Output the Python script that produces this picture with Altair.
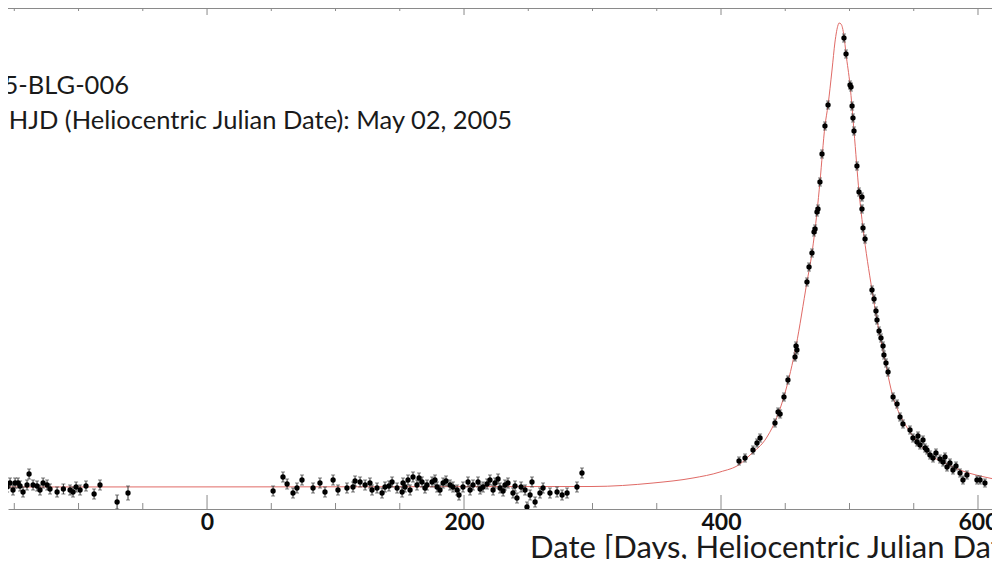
import altair as alt
import pandas as pd

obs_day = [
    -159.5, -157.2, -155.6, -153.3, -151.0, -149.4, -147.1, -145.5, -143.2, -140.1, -138.5, -135.4,
    -132.3, -130.0, -127.6, -124.5, -122.2, -116.7, -111.8, -106.6, -104.3, -101.9, -98.8, -94.2,
    -87.9, -83.3, -70.0, -61.5,
    51.4, 59.1, 62.3, 66.9, 70.0, 73.9, 82.5, 87.9, 91.8, 98.1, 101.9, 108.9,
    113.6, 115.2, 119.1, 123.0, 126.8, 128.4, 132.3, 136.2, 138.5, 141.6, 144.0, 147.9,
    151.8, 152.5, 154.1, 156.4, 158.0, 160.3, 163.4, 165.0, 167.3, 169.6, 171.2, 175.1,
    177.4, 179.0, 181.3, 183.7, 186.0, 189.1, 191.4, 194.6, 196.1, 199.2, 203.1, 204.7,
    207.0, 210.9, 212.5, 214.8, 217.9, 220.2, 222.6, 224.1, 226.5, 228.0, 230.4, 231.9,
    234.2, 238.1, 239.7, 241.2, 244.4, 247.5, 249.0, 251.4, 252.9, 255.3, 259.1, 261.5,
    266.9, 272.4, 276.3, 280.2, 287.9, 291.8,
    414.0, 418.7, 424.9, 428.0, 430.4, 442.0, 444.4, 446.0, 449.0, 452.1, 457.6, 458.4,
    459.1, 466.9, 468.5, 470.8, 472.4, 473.2, 474.7, 475.5, 477.0, 478.6, 480.9, 483.3,
    495.7, 497.3, 500.4, 501.2, 502.0, 502.7, 503.5, 505.8, 507.4, 509.7, 509.7, 510.5,
    512.1, 517.5, 519.1, 520.6, 521.4, 523.0, 524.5, 526.1, 526.8, 528.4, 530.0, 533.9,
    537.0, 539.3, 541.6, 547.1, 549.4, 552.5, 553.3, 554.9, 557.2, 558.8, 560.3, 562.6,
    565.0, 567.3, 570.4, 572.8, 574.3, 575.9, 578.2, 580.5, 582.9, 586.0, 588.3, 591.4,
    599.2, 601.6, 605.4, 614.8,
]
obs_flux = [
    0.98, 1.20, 1.00, 1.08, 0.94, 1.08, 1.08, 1.02, 0.90, 1.04, 1.26, 1.04,
    1.02, 0.94, 1.08, 1.04, 0.96, 0.90, 0.96, 0.94, 0.90, 1.00, 0.94, 1.02,
    0.86, 1.04, 0.70, 0.88,
    0.92, 1.20, 1.06, 0.88, 0.98, 1.14, 0.98, 1.08, 0.90, 1.14, 0.94, 0.98,
    1.00, 1.12, 1.10, 1.04, 1.08, 0.94, 0.98, 0.88, 1.00, 1.02, 1.10, 0.98,
    0.90, 1.08, 1.00, 1.14, 0.94, 1.20, 1.04, 1.18, 1.10, 0.98, 1.04, 1.10,
    1.14, 1.00, 0.94, 1.08, 1.12, 1.04, 1.00, 0.94, 0.84, 1.00, 1.10, 0.94,
    1.04, 1.10, 0.96, 1.00, 1.06, 1.14, 0.94, 1.08, 1.16, 0.98, 0.92, 1.04,
    1.08, 0.88, 1.02, 0.78, 1.00, 0.94, 0.60, 0.84, 1.10, 0.70, 0.88, 0.98,
    0.88, 0.90, 0.84, 0.88, 1.00, 1.28,
    1.52, 1.58, 1.74, 1.88, 1.98, 2.28, 2.50, 2.46, 2.80, 3.14, 3.60, 3.82,
    3.74, 5.10, 5.40, 5.68, 6.10, 6.16, 6.50, 6.56, 7.10, 7.66, 8.22, 8.64,
    9.98, 9.66, 9.04, 9.00, 8.62, 8.38, 8.12, 7.42, 6.90, 6.80, 6.56, 6.18,
    5.96, 4.94, 4.76, 4.52, 4.34, 4.12, 3.98, 3.82, 3.64, 3.48, 3.30, 2.80,
    2.66, 2.40, 2.26, 2.14, 1.98, 1.90, 2.02, 1.84, 1.94, 1.78, 1.74, 1.64,
    1.58, 1.68, 1.56, 1.50, 1.60, 1.40, 1.48, 1.34, 1.42, 1.28, 1.14, 1.24,
    1.14, 1.14, 1.08, 0.78,
]
obs_err = (
    [0.10] * 26 + [0.14, 0.14]
    + [0.10] * 78
    + [0.08] * 24
    + [0.08] * 52
)

# ---- model light curve ----
model_day = [
    -161.1, 299.6, 347.1, 378.2, 399.2, 414.8, 422.6, 435.8, 443.6, 449.8, 458.4, 466.9,
    470.8, 474.7, 477.0, 480.9, 483.3, 486.4, 488.7, 491.1, 491.8, 493.4, 495.7, 497.3,
    500.4, 503.5, 507.4, 510.5, 517.5, 521.4, 526.8, 533.9, 539.3, 547.1, 554.9, 562.6,
    574.3, 586.0, 601.6, 617.1,
]
model_flux = [
    1.00, 1.01, 1.08, 1.18, 1.30, 1.46, 1.64, 2.00, 2.40, 2.88, 3.82, 5.10,
    5.68, 6.50, 7.10, 8.22, 8.64, 9.34, 9.90, 10.24, 10.28, 10.26, 10.02, 9.66,
    9.04, 8.12, 6.90, 6.18, 4.94, 4.34, 3.64, 2.80, 2.44, 2.10, 1.84, 1.64,
    1.48, 1.34, 1.22, 1.14,
]

major_ticks = [0, 200, 400, 600]
minor_ticks = [-150, -100, -50, 50, 100, 150, 250, 300, 350, 450, 500, 550]

event_name = "OGLE-2005-BLG-006"
peak_text = "t0 HJD (Heliocentric Julian Date): May 02, 2005"
x_title = "Date [Days, Heliocentric Julian Date - 2453000]"

FONT = "Lato"
AXIS_GREY = "#8a8a8a"
W, H = 984, 501

obs = pd.DataFrame({"day": obs_day, "flux": obs_flux, "err": obs_err})
model = pd.DataFrame({"day": model_day, "flux": model_flux})
majors = pd.DataFrame({"day": major_ticks})
minors = pd.DataFrame({"day": minor_ticks})

xscale = alt.Scale(domain=[-154.9, 610.9], nice=False, zero=False)
yscale = alt.Scale(domain=[0.56, 10.58], nice=False, zero=False)

xaxis = alt.Axis(values=major_ticks, format="d", ticks=False,
                 grid=False, domainColor=AXIS_GREY, labelFont=FONT,
                 labelFontWeight="bold", labelFontSize=23, labelColor="#111",
                 labelPadding=13, labelBaseline="middle", labelFlush=False,
                 labelOverlap=False, title=None)

line = alt.Chart(model).mark_line(
    color="#e06a66", strokeWidth=1, interpolate="monotone", clip=True
).encode(
    x=alt.X("day:Q", scale=xscale, axis=xaxis),
    y=alt.Y("flux:Q", scale=yscale, axis=None),
)

base = alt.Chart(obs).transform_calculate(
    lo="datum.flux - datum.err", hi="datum.flux + datum.err"
)
bars = base.mark_rule(color="#333", strokeWidth=1, clip=True).encode(
    x=alt.X("day:Q", scale=xscale),
    y=alt.Y("lo:Q", scale=yscale),
    y2="hi:Q",
)
cap_lo = base.mark_tick(color="#444", thickness=1, size=4, orient="horizontal", clip=True).encode(
    x=alt.X("day:Q", scale=xscale), y=alt.Y("lo:Q", scale=yscale)
)
cap_hi = base.mark_tick(color="#444", thickness=1, size=4, orient="horizontal", clip=True).encode(
    x=alt.X("day:Q", scale=xscale), y=alt.Y("hi:Q", scale=yscale)
)
pts = alt.Chart(obs).mark_point(
    filled=True, shape="circle", size=28, color="#000", opacity=1, clip=True
).encode(
    x=alt.X("day:Q", scale=xscale),
    y=alt.Y("flux:Q", scale=yscale),
)

top_line = alt.Chart(majors).mark_rule(color=AXIS_GREY, strokeWidth=1).encode(
    y=alt.value(0.5))
tick_bot_major = alt.Chart(majors).mark_rule(color=AXIS_GREY, strokeWidth=1).encode(
    x=alt.X("day:Q", scale=xscale), y=alt.value(H - 14), y2=alt.value(H))
tick_bot_minor = alt.Chart(minors).mark_rule(color=AXIS_GREY, strokeWidth=1).encode(
    x=alt.X("day:Q", scale=xscale), y=alt.value(H - 6), y2=alt.value(H))
tick_top_major = alt.Chart(majors).mark_rule(color=AXIS_GREY, strokeWidth=1).encode(
    x=alt.X("day:Q", scale=xscale), y=alt.value(0), y2=alt.value(7))
tick_top_minor = alt.Chart(minors).mark_rule(color=AXIS_GREY, strokeWidth=1).encode(
    x=alt.X("day:Q", scale=xscale), y=alt.value(0), y2=alt.value(3))

def label(txt, x, y, align, size, baseline="middle", color="#1a1a1a"):
    return alt.Chart(pd.DataFrame({"t": [txt]})).mark_text(
        align=align, baseline=baseline, font=FONT, fontSize=size, color=color
    ).encode(text="t:N", x=alt.value(x), y=alt.value(y))

t1 = label(event_name, 121, 78, "right", 25.5)
t2 = label(peak_text, 504, 113, "right", 25.5)
t3 = label(x_title, 522, 550, "left", 31, baseline="alphabetic")

chart = alt.layer(
    line, top_line, tick_bot_major, tick_bot_minor, tick_top_major, tick_top_minor,
    bars, cap_lo, cap_hi, pts, t1, t2, t3
).properties(
    width=W, height=H,
    autosize=alt.AutoSizeParams(type="none"),
    padding={"left": 0, "top": 0, "right": 0, "bottom": 50},
    background="white",
).configure_view(stroke=None)

chart.save("out.html", embed_options={"renderer": "svg", "actions": False})
